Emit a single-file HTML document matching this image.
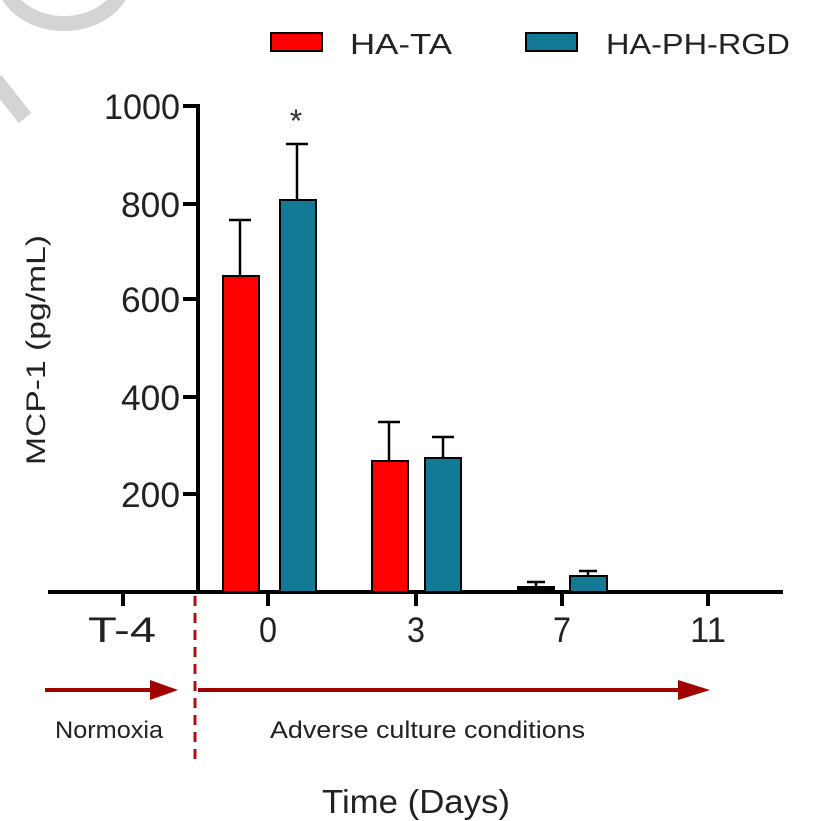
<!DOCTYPE html>
<html><head><meta charset="utf-8"><style>
html,body{margin:0;padding:0;background:#fff;}
svg{display:block;font-family:"Liberation Sans",Arial,sans-serif;}
</style></head><body>
<svg width="824" height="821" viewBox="0 0 824 821" xmlns="http://www.w3.org/2000/svg">
<!-- watermark -->
<path d="M8,-5 A62,50 0 0 0 120,-5" fill="none" stroke="#d4d4d4" stroke-width="15"/>
<line x1="-5" y1="80" x2="25" y2="118" stroke="#d4d4d4" stroke-width="16"/>
<!-- legend -->
<rect x="271" y="33" width="51" height="18" fill="#ff0000" stroke="#000" stroke-width="2"/>
<text x="350" y="54" font-size="29" fill="#222" textLength="102" lengthAdjust="spacingAndGlyphs">HA-TA</text>
<rect x="526" y="33" width="51" height="18" fill="#127a94" stroke="#000" stroke-width="2"/>
<text x="606" y="54" font-size="29" fill="#222" textLength="184" lengthAdjust="spacingAndGlyphs">HA-PH-RGD</text>
<!-- y axis -->
<g stroke="#000" stroke-width="4">
<line x1="198" y1="104" x2="198" y2="593"/>
<line x1="183" y1="106" x2="198" y2="106"/>
<line x1="183" y1="204" x2="198" y2="204"/>
<line x1="183" y1="299" x2="198" y2="299"/>
<line x1="183" y1="397" x2="198" y2="397"/>
<line x1="183" y1="494" x2="198" y2="494"/>
<line x1="48" y1="592" x2="783" y2="592"/>
<line x1="123" y1="592" x2="123" y2="606"/>
<line x1="268" y1="592" x2="268" y2="606"/>
<line x1="416" y1="592" x2="416" y2="606"/>
<line x1="562" y1="592" x2="562" y2="606"/>
<line x1="708" y1="592" x2="708" y2="606"/>
</g>
<g font-size="35" fill="#222">
<text x="104" y="119" textLength="76" lengthAdjust="spacingAndGlyphs">1000</text>
<text x="121" y="217" textLength="59" lengthAdjust="spacingAndGlyphs">800</text>
<text x="121" y="312" textLength="59" lengthAdjust="spacingAndGlyphs">600</text>
<text x="121" y="410" textLength="59" lengthAdjust="spacingAndGlyphs">400</text>
<text x="121" y="507" textLength="59" lengthAdjust="spacingAndGlyphs">200</text>
</g>
<text transform="translate(45,465) rotate(-90)" font-size="27" fill="#222" textLength="230" lengthAdjust="spacingAndGlyphs">MCP-1 (pg/mL)</text>
<!-- bars -->
<g stroke="#000" stroke-width="2.5">
<line x1="240" y1="276" x2="240" y2="220"/><line x1="229" y1="220" x2="251" y2="220"/>
<line x1="297" y1="200" x2="297" y2="144"/><line x1="286" y1="144" x2="308" y2="144"/>
<line x1="389" y1="461" x2="389" y2="422"/><line x1="378" y1="422" x2="400" y2="422"/>
<line x1="443" y1="458" x2="443" y2="437"/><line x1="432" y1="437" x2="454" y2="437"/>
<line x1="536" y1="587" x2="536" y2="582"/><line x1="527" y1="582" x2="545" y2="582"/>
<line x1="588" y1="576" x2="588" y2="571"/><line x1="579" y1="571" x2="597" y2="571"/>
</g>
<g stroke="#000" stroke-width="2">
<rect x="223" y="276" width="36" height="316" fill="#ff0000"/>
<rect x="280" y="200" width="36" height="392" fill="#127a94"/>
<rect x="372" y="461" width="36" height="131" fill="#ff0000"/>
<rect x="425" y="458" width="36" height="134" fill="#127a94"/>
<rect x="518" y="587" width="36" height="5" fill="#000"/>
<rect x="570" y="576" width="37" height="16" fill="#127a94"/>
</g>
<text x="296" y="132" font-size="32" fill="#333" text-anchor="middle">*</text>
<!-- x labels -->
<g font-size="35" fill="#222">
<text x="88" y="642" textLength="68" lengthAdjust="spacingAndGlyphs">T-4</text>
<text x="259" y="642" textLength="18" lengthAdjust="spacingAndGlyphs">0</text>
<text x="407" y="642" textLength="18" lengthAdjust="spacingAndGlyphs">3</text>
<text x="553" y="642" textLength="18" lengthAdjust="spacingAndGlyphs">7</text>
<text x="690" y="642" textLength="36" lengthAdjust="spacingAndGlyphs">11</text>
</g>
<line x1="195" y1="596" x2="195" y2="760" stroke="#b01010" stroke-width="3" stroke-dasharray="10,7"/>
<line x1="45" y1="690" x2="155" y2="690" stroke="#a00000" stroke-width="4"/>
<polygon points="150,680 178,690 150,700" fill="#a00000"/>
<line x1="198" y1="690" x2="685" y2="690" stroke="#a00000" stroke-width="4"/>
<polygon points="678,680 710,690 678,700" fill="#a00000"/>
<text x="55" y="738" font-size="24" fill="#222" textLength="108" lengthAdjust="spacingAndGlyphs">Normoxia</text>
<text x="270" y="738" font-size="24" fill="#222" textLength="315" lengthAdjust="spacingAndGlyphs">Adverse culture conditions</text>
<text x="322" y="813" font-size="33" fill="#222" textLength="188" lengthAdjust="spacingAndGlyphs">Time (Days)</text>
</svg>
</body></html>
